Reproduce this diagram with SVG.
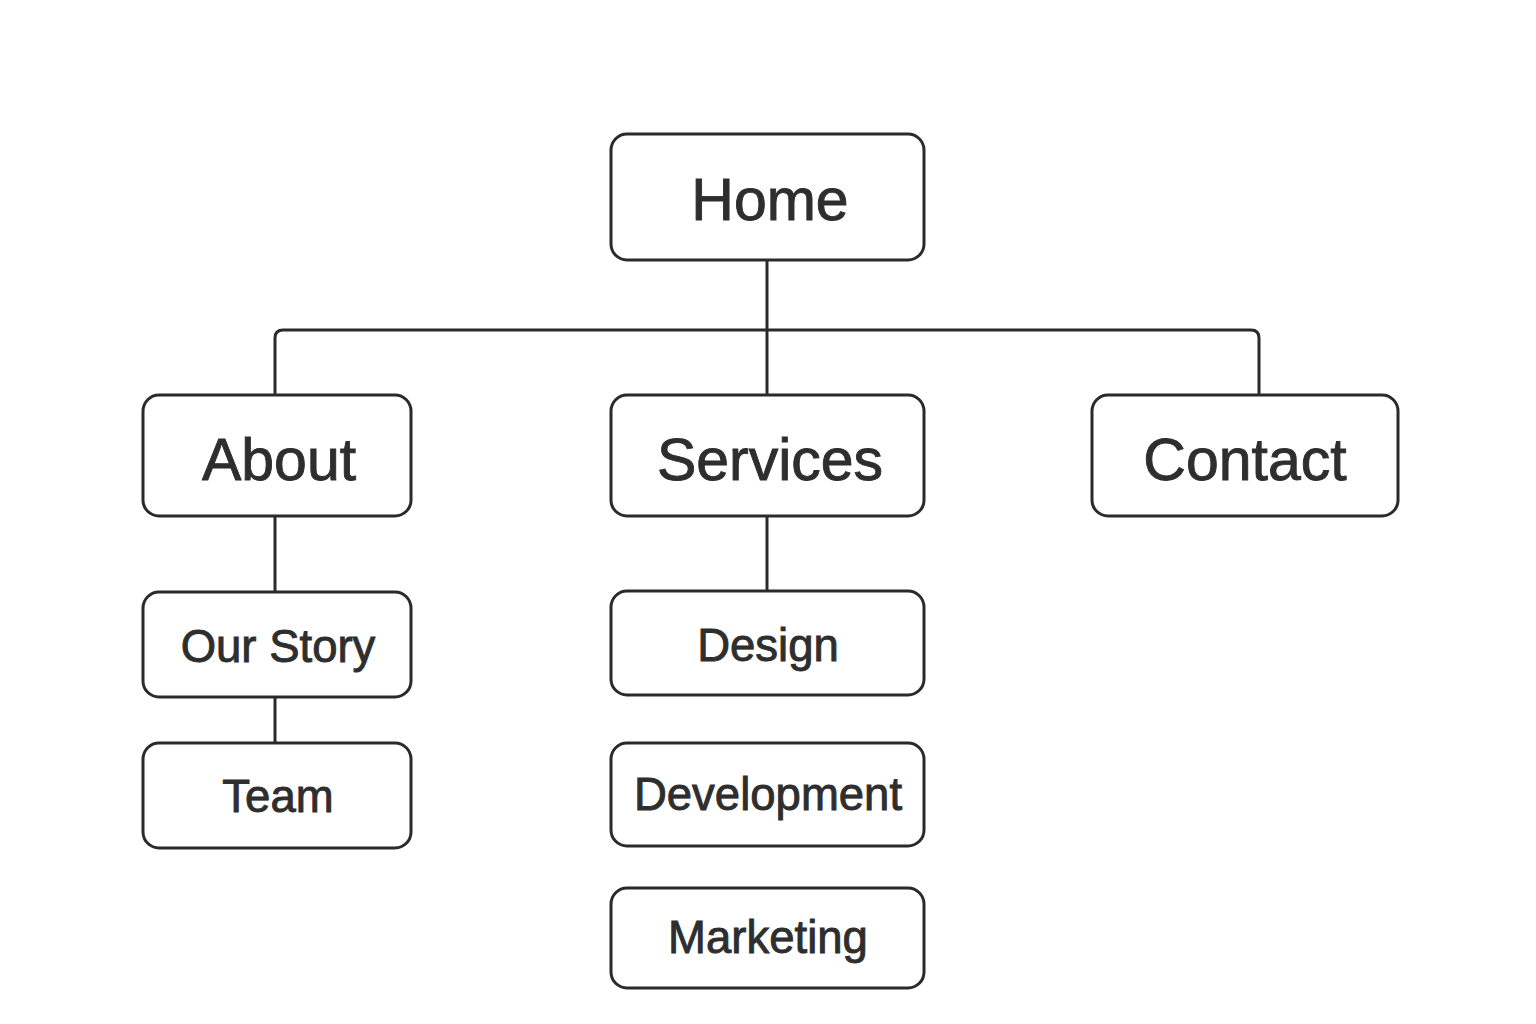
<svg xmlns="http://www.w3.org/2000/svg" width="1536" height="1024" viewBox="0 0 1536 1024">
<style>
.box{fill:#fff;stroke:#2a2a2a;stroke-width:3}
.ln{fill:none;stroke:#2a2a2a;stroke-width:3}
text{font-family:"Liberation Sans",Arial,sans-serif;fill:#2e2e2e;stroke:#2e2e2e;stroke-width:0.9;text-anchor:middle}
.lg{font-size:59px}
.sm{font-size:45.5px}
</style>
<rect width="1536" height="1024" fill="#fff"/>
<g id="connectors">
<path class="ln" d="M767 260 V395"/>
<path class="ln" d="M275 395 V338 Q275 330 283 330 H1251 Q1259 330 1259 338 V395"/>
<path class="ln" d="M275 516 V592"/>
<path class="ln" d="M275 697 V743"/>
<path class="ln" d="M767 516 V591"/>
</g>
<g id="home"><rect class="box" x="611" y="134" width="313" height="126" rx="16"/><text class="lg" x="770" y="220">Home</text></g>
<g id="about"><rect class="box" x="143" y="395" width="268" height="121" rx="16"/><text class="lg" x="279" y="480">About</text></g>
<g id="services"><rect class="box" x="611" y="395" width="313" height="121" rx="16"/><text class="lg" x="770" y="480">Services</text></g>
<g id="contact"><rect class="box" x="1092" y="395" width="306" height="121" rx="16"/><text class="lg" x="1245" y="480">Contact</text></g>
<g id="ourstory"><rect class="box" x="143" y="592" width="268" height="105" rx="16"/><text class="sm" x="278" y="662">Our Story</text></g>
<g id="team"><rect class="box" x="143" y="743" width="268" height="105" rx="16"/><text class="sm" x="278" y="812">Team</text></g>
<g id="design"><rect class="box" x="611" y="591" width="313" height="104" rx="16"/><text class="sm" x="768" y="661">Design</text></g>
<g id="development"><rect class="box" x="611" y="743" width="313" height="103" rx="16"/><text class="sm" x="768" y="810">Development</text></g>
<g id="marketing"><rect class="box" x="611" y="888" width="313" height="100" rx="16"/><text class="sm" x="768" y="953">Marketing</text></g>
</svg>
